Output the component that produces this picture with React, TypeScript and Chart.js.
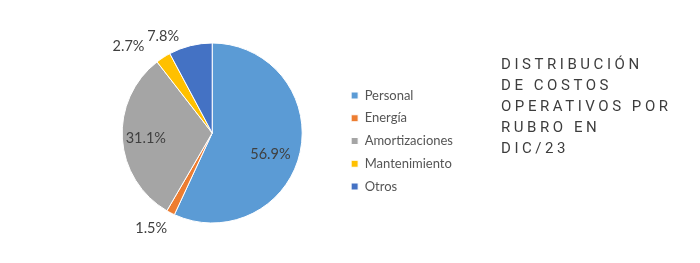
import React, { useEffect, useRef } from 'react';
import { Chart, registerables } from 'chart.js';

Chart.register(...registerables);

const categories = ['Personal', 'Energía', 'Amortizaciones', 'Mantenimiento', 'Otros'];
const shares = [56.9, 1.5, 31.1, 2.7, 7.8];
const valueLabels = ['56.9%', '1.5%', '31.1%', '2.7%', '7.8%'];
const sliceColors = ['#5B9BD5', '#ED7D31', '#A5A5A5', '#FFC000', '#4472C4'];
const titleLines = ['DISTRIBUCIÓN', 'DE COSTOS', 'OPERATIVOS POR', 'RUBRO EN', 'DIC/23'];

// label placement relative to each slice (radius factor, angle shift in degrees)
const labelRadius = [0.69, 1.26, 0.74, 1.34, 1.2];
const labelAngleShift = [8, 5, -1, -11, -13];

const pieLabels = {
  id: 'pieLabels',
  afterDatasetsDraw(chart: any) {
    const ctx = chart.ctx;
    const meta = chart.getDatasetMeta(0);
    ctx.save();
    ctx.font = '14.5px Lato';
    ctx.fillStyle = '#404040';
    ctx.textAlign = 'center';
    ctx.textBaseline = 'middle';
    meta.data.forEach((arc: any, i: number) => {
      const p = arc.getProps(['x', 'y', 'startAngle', 'endAngle', 'outerRadius'], true);
      const a = (p.startAngle + p.endAngle) / 2 + (labelAngleShift[i] * Math.PI) / 180;
      const r = p.outerRadius * labelRadius[i];
      ctx.fillText(valueLabels[i], p.x + r * Math.cos(a), p.y + r * Math.sin(a));
    });
    ctx.restore();
  },
};

export default function App() {
  const canvasRef = useRef<HTMLCanvasElement | null>(null);

  useEffect(() => {
    if (!canvasRef.current) return;
    const chart = new Chart(canvasRef.current, {
      type: 'pie',
      data: {
        labels: categories,
        datasets: [
          {
            data: shares,
            backgroundColor: sliceColors,
            borderColor: '#ffffff',
            borderWidth: 1,
            hoverOffset: 0,
          },
        ],
      },
      options: {
        responsive: false,
        animation: false,
        radius: 90,
        layout: { padding: { left: 83, right: 237, top: 20, bottom: 17 } },
        plugins: {
          legend: {
            position: 'right',
            align: 'center',
            title: { display: true, text: '', padding: 0, font: { size: 16, lineHeight: 1 } },
            labels: {
              boxWidth: 7,
              boxHeight: 7,
              padding: 9.75,
              color: '#555555',
              font: { family: 'Lato', size: 13 },
            },
          },
          tooltip: { enabled: false },
        },
      } as any,
      plugins: [pieLabels],
    });
    return () => chart.destroy();
  }, []);

  return (
    <div style={{ position: 'absolute', left: 0, top: 0, width: 700, height: 263, background: '#fff', overflow: 'hidden' }}>
      <canvas ref={canvasRef} width={700} height={263} style={{ display: 'block', width: 700, height: 263 }} />
      <div
        style={{
          position: 'absolute',
          left: 501,
          top: 54,
          fontFamily: 'Roboto',
          fontSize: 15,
          lineHeight: '20.9px',
          letterSpacing: '3.55px',
          color: '#3d3d3d',
        }}
      >
        {titleLines.map((t) => (
          <div key={t} style={{ whiteSpace: 'nowrap' }}>{t}</div>
        ))}
      </div>
    </div>
  );
}
